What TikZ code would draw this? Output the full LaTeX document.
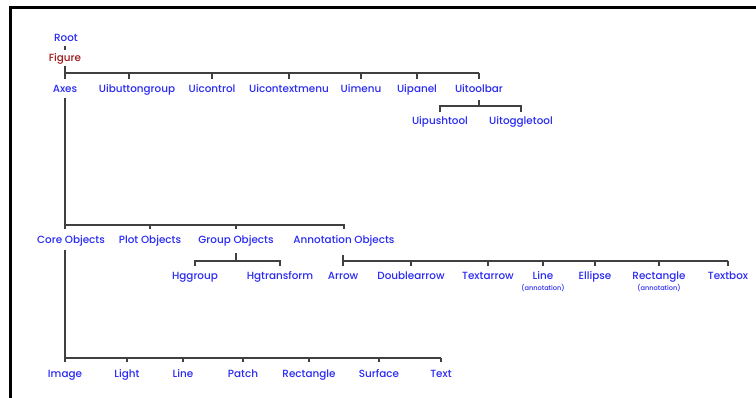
\documentclass[tikz,border=0pt]{standalone}
\usepackage{fontspec}
\newfontfamily\lbfont{Poppins}[UprightFont=* Medium]
\definecolor{labelblue}{HTML}{2A2AF5}
\definecolor{figred}{HTML}{A01818}
\definecolor{wire}{HTML}{404040}
\begin{document}
\begin{tikzpicture}[x=1pt,y=-1pt,
  lbl/.style={text=labelblue, font=\lbfont\fontsize{10.4}{12}\selectfont, inner sep=0pt, anchor=base},
  note/.style={text=labelblue, font=\lbfont\fontsize{6.6}{8}\selectfont, inner sep=0pt, anchor=base},
  wire/.style={draw=wire, line width=1.3pt},
  frame/.style={draw=black, line width=3.5pt}]
\useasboundingbox (0,0) rectangle (756,398);
\fill[white] (0,0) rectangle (756,398);
% outer frame (top and left edges only)
\draw[frame] (9,7.5) -- (756,7.5);
\draw[frame] (10.5,6) -- (10.5,398);

% top levels
\node[lbl] (root) at (66,42) {Root};
\node[lbl,text=figred] (fig) at (65,62) {Figure};

% children of Figure
\node[lbl] (axes) at (65,92.5) {Axes};
\node[lbl] (ubg) at (137,92.5) {Uibuttongroup};
\node[lbl] (uic) at (212,92.5) {Uicontrol};
\node[lbl] (ucm) at (289,92.5) {Uicontextmenu};
\node[lbl] (umn) at (361,92.5) {Uimenu};
\node[lbl] (upn) at (417,92.5) {Uipanel};
\node[lbl] (utb) at (479,92.5) {Uitoolbar};

% children of Uitoolbar
\node[lbl] (upt) at (440,125) {Uipushtool};
\node[lbl] (utt) at (521,125) {Uitoggletool};

% children of Axes
\node[lbl] (core) at (71,244) {Core Objects};
\node[lbl] (plot) at (150,244) {Plot Objects};
\node[lbl] (grp) at (236,244) {Group Objects};
\node[lbl] (ann) at (344,244) {Annotation Objects};

% children of Group Objects
\node[lbl] (hgg) at (195,280) {Hggroup};
\node[lbl] (hgt) at (280,280) {Hgtransform};

% children of Annotation Objects
\node[lbl] (arr) at (343,280) {Arrow};
\node[lbl] (darr) at (411,280) {Doublearrow};
\node[lbl] (tarr) at (488,280) {Textarrow};
\node[lbl] (aline) at (543,280) {Line};
\node[lbl] (ell) at (595,280) {Ellipse};
\node[lbl] (arect) at (659,280) {Rectangle};
\node[lbl] (tbox) at (728,280) {Textbox};
\node[note] (alinen) at (543,290.5) {(annotation)};
\node[note] (arectn) at (659,290.5) {(annotation)};

% children of Core Objects
\node[lbl] (img) at (65,378) {Image};
\node[lbl] (lgt) at (127,378) {Light};
\node[lbl] (cline) at (183,378) {Line};
\node[lbl] (pat) at (243,378) {Patch};
\node[lbl] (crect) at (309,378) {Rectangle};
\node[lbl] (surf) at (379,378) {Surface};
\node[lbl] (txt) at (441,378) {Text};

% Root -> Figure
\draw[wire] (root.south -| fig.south) ++(0,4) -- (fig.north |- 0,50.5);

% Figure -> Axes ... Uitoolbar
\draw[wire] (fig.south |- 0,66) -- (fig.south |- 0,79);
\draw[wire] (axes.north |- 0,73) -- (utb.north |- 0,73);
\draw[wire] ([xshift=-8pt]ubg.north |- 0,73) -- ([xshift=-8pt]ubg.north |- 0,79);
\foreach \c in {uic,ucm,umn,upn,utb}
  \draw[wire] (\c.north |- 0,73) -- (\c.north |- 0,79);

% Uitoolbar -> Uipushtool, Uitoggletool
\draw[wire] (utb.south |- 0,100) -- (utb.south |- 0,106);
\draw[wire] (upt.north |- 0,112) -- (upt.north |- 0,106)
  -- (utt.north |- 0,106) -- (utt.north |- 0,112);

% Axes -> object categories
\draw[wire] (axes.south |- 0,98) -- (axes.south |- 0,229);
\draw[wire] (axes.south |- 0,225) -- (ann.north |- 0,225) -- (ann.north |- 0,229);
\foreach \c in {plot,grp}
  \draw[wire] (\c.north |- 0,225) -- (\c.north |- 0,229);

% Group Objects -> Hggroup, Hgtransform
\draw[wire] (grp.south |- 0,253) -- (grp.south |- 0,261);
\draw[wire] (hgg.north |- 0,266) -- (hgg.north |- 0,261)
  -- (hgt.north |- 0,261) -- (hgt.north |- 0,266);

% Annotation Objects -> annotation types
\draw[wire] (arr.north |- 0,255) -- (arr.north |- 0,266);
\draw[wire] (arr.north |- 0,261) -- (tbox.north |- 0,261);
\foreach \c in {darr,tarr,aline,ell,arect,tbox}
  \draw[wire] (\c.north |- 0,261) -- (\c.north |- 0,266);

% Core Objects -> core types
\draw[wire] (img.north |- 0,250) -- (img.north |- 0,362.5);
\draw[wire] (img.north |- 0,358) -- (txt.north |- 0,358);
\foreach \c in {lgt,cline,pat,crect,surf,txt}
  \draw[wire] (\c.north |- 0,358) -- (\c.north |- 0,362.5);
\end{tikzpicture}
\end{document}
